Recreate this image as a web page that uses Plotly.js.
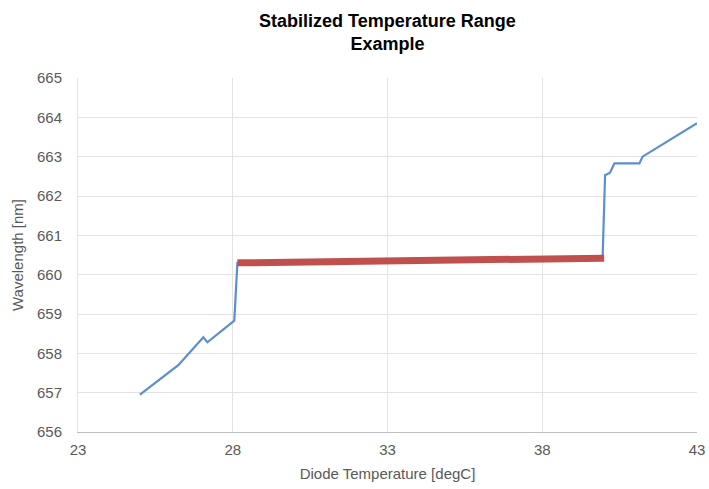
<!DOCTYPE html>
<html>
<head>
<meta charset="utf-8">
<script src="https://cdn.plot.ly/plotly-3.0.1.min.js"></script>
<style>html,body{margin:0;padding:0;background:#fff;}#chart{width:709px;height:489px;}</style>
</head>
<body>
<div id="chart"></div>
<script>
// Full measured curve
const tempAll = [25.0, 25.76, 26.24, 27.05, 27.18, 28.05, 28.15, 30.0, 32.0, 34.0, 36.0, 38.0, 39.95, 40.03, 40.19, 40.33, 41.14, 41.24, 42.13, 43.0];
const waveAll = [656.95, 657.40, 657.70, 658.41, 658.28, 658.83, 660.30, 660.31, 660.33, 660.35, 660.37, 660.40, 660.42, 662.53, 662.59, 662.83, 662.83, 663.00, 663.44, 663.85];
// Stabilized range highlight
const tempStable = [28.15, 29.5, 30.5, 31.5, 32.5, 33.5, 34.5, 35.5, 36.5, 37.5, 38.5, 39.5, 40.0];
const waveStable = [660.30, 660.31, 660.32, 660.32, 660.33, 660.34, 660.35, 660.36, 660.37, 660.38, 660.40, 660.41, 660.42];
const xTicks = [23, 28, 33, 38, 43];
const yTicks = [656, 657, 658, 659, 660, 661, 662, 663, 664, 665];

const font = "Liberation Sans, Arial, sans-serif";
const traces = [
  {x: tempAll, y: waveAll, type: 'scatter', mode: 'lines',
   line: {color: '#5b8fd0', width: 2.2}, hoverinfo: 'skip'},
  {x: tempStable, y: waveStable, type: 'scatter', mode: 'lines',
   line: {color: '#c0504d', width: 7}, hoverinfo: 'skip'}
];
const layout = {
  width: 709, height: 489,
  margin: {l: 78, r: 12, t: 78, b: 57},
  paper_bgcolor: '#fff', plot_bgcolor: '#fff',
  showlegend: false,
  font: {family: font, color: '#595959', size: 14},
  title: {text: '<b>Stabilized Temperature Range<br>Example</b>',
          font: {family: font, size: 18, color: '#000'},
          x: 0.5465, xanchor: 'center', yref: 'container', y: 0.945, yanchor: 'middle'},
  xaxis: {range: [23, 43], tickvals: xTicks, ticktext: xTicks.map(String),
          showgrid: true, gridcolor: '#e3e3e3', gridwidth: 1,
          zeroline: false, showline: true, linecolor: '#bfbfbf', linewidth: 1,
          ticks: '', ticklen: 0, ticklabelstandoff: 4, tickfont: {size: 15, color: '#595959'},
          title: {text: 'Diode Temperature [degC]', font: {size: 15, color: '#595959'}, standoff: 11},
          fixedrange: true},
  yaxis: {range: [656, 665], tickvals: yTicks, ticktext: yTicks.map(String),
          showgrid: true, gridcolor: '#e3e3e3', gridwidth: 1,
          zeroline: false, showline: true, linecolor: '#e3e3e3', linewidth: 1,
          ticks: '', ticklabelstandoff: 12, tickfont: {size: 15, color: '#595959'},
          title: {text: 'Wavelength [nm]', font: {size: 15, color: '#595959'}, standoff: 9},
          fixedrange: true}
};
Plotly.newPlot('chart', traces, layout, {displayModeBar: false, staticPlot: true});
</script>
</body>
</html>
